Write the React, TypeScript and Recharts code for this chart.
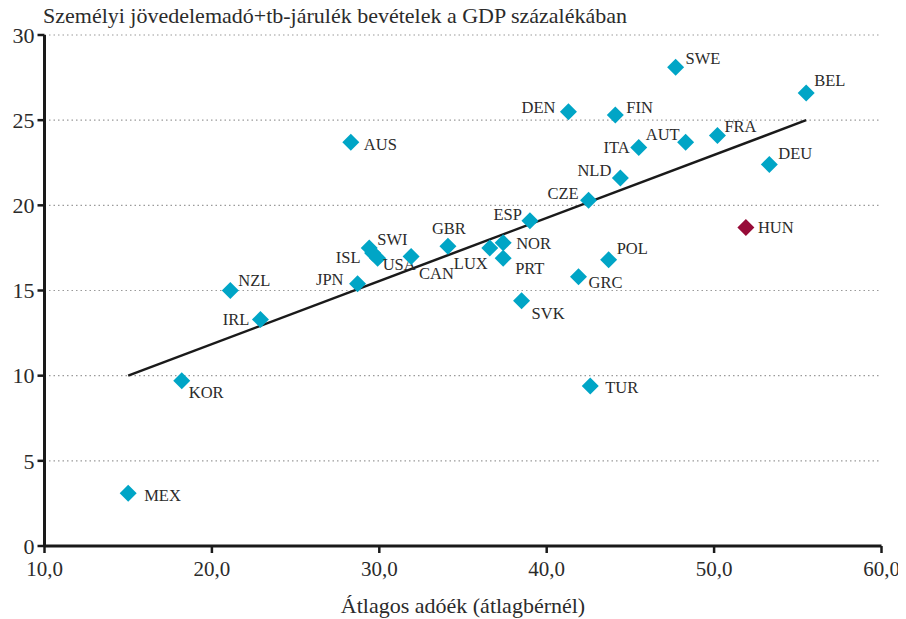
import React from "react"
import { ScatterChart, Scatter, XAxis, YAxis, CartesianGrid, ReferenceLine, Label } from "recharts"

// Átlagos adóék (x) és SZJA+tb bevétel a GDP %-ában (y), OECD országok
const countries = [
  "MEX", "KOR", "IRL", "NZL", "JPN", "AUS", "SWI", "ISL", "USA", "CAN",
  "GBR", "LUX", "NOR", "PRT", "ESP", "SVK", "CZE", "GRC", "POL", "TUR",
  "NLD", "DEN", "FIN", "ITA", "AUT", "FRA", "SWE", "BEL", "DEU",
]
const taxWedge = [
  15.0, 18.2, 22.9, 21.1, 28.7, 28.3, 29.4, 29.6, 29.9, 31.9,
  34.1, 36.6, 37.4, 37.4, 39.0, 38.5, 42.5, 41.9, 43.7, 42.6,
  44.4, 41.3, 44.1, 45.5, 48.3, 50.2, 47.7, 55.5, 53.3,
]
const revenue = [
  3.1, 9.7, 13.3, 15.0, 15.4, 23.7, 17.5, 17.2, 16.9, 17.0,
  17.6, 17.5, 17.8, 16.9, 19.1, 14.4, 20.3, 15.8, 16.8, 9.4,
  21.6, 25.5, 25.3, 23.4, 23.7, 24.1, 28.1, 26.6, 22.4,
]

const hunName = ["HUN"]
const hunX = [51.9]
const hunY = [18.7]

// trendvonal végpontjai
const trendX = [15.0, 55.5]
const trendY = [10.0, 25.0]

const xTicks = [10, 20, 30, 40, 50, 60]
const yTicks = [0, 5, 10, 15, 20, 25, 30]

const oecdData = countries.map((name, i) => ({ name, x: taxWedge[i], y: revenue[i] }))
const hunData = hunName.map((name, i) => ({ name, x: hunX[i], y: hunY[i] }))

// label offsets relative to the marker (dx, dy, anchor)
const labelPos: Record<string, [number, number, "start" | "end" | "middle"]> = {
  MEX: [16, 2, "start"],
  KOR: [7, 11, "start"],
  IRL: [-11, 0, "end"],
  NZL: [8, -10, "start"],
  JPN: [-14, -4, "end"],
  AUS: [13, 2, "start"],
  SWI: [8, -9, "start"],
  ISL: [-12, 4, "end"],
  USA: [5, 6, "start"],
  CAN: [8, 17, "start"],
  GBR: [1, -18, "middle"],
  LUX: [-2, 15, "end"],
  NOR: [13, 0, "start"],
  PRT: [12, 10, "start"],
  ESP: [-8, -6, "end"],
  SVK: [10, 13, "start"],
  CZE: [-10, -7, "end"],
  GRC: [10, 5, "start"],
  POL: [8, -12, "start"],
  TUR: [15, 1, "start"],
  NLD: [-9, -8, "end"],
  DEN: [-13, -4, "end"],
  FIN: [11, -8, "start"],
  ITA: [-9, 0, "end"],
  AUT: [-6, -8, "end"],
  FRA: [7, -9, "start"],
  SWE: [10, -9, "start"],
  BEL: [8, -13, "start"],
  DEU: [9, -11, "start"],
  HUN: [12, 0, "start"],
}

const FONT = "'Liberation Serif', 'DejaVu Serif', serif"

const makeDiamond = (color: string) => (props: any) => {
  const { cx, cy, payload } = props
  const s = 8.5
  const pos = labelPos[payload.name] || [10, 0, "start"]
  return (
    <g>
      <path d={`M${cx},${cy - s}L${cx + s},${cy}L${cx},${cy + s}L${cx - s},${cy}Z`} fill={color} />
      <text
        x={cx + pos[0]}
        y={cy + pos[1]}
        dy="0.35em"
        textAnchor={pos[2]}
        fontFamily={FONT}
        fontSize={16.5}
        fill="#2b2b2b"
      >
        {payload.name}
      </text>
    </g>
  )
}

export default function App() {
  return (
    <div style={{ position: "relative", width: 898, height: 611, fontFamily: FONT }}>
      <div
        style={{
          position: "absolute",
          left: 35,
          top: -5,
          fontSize: 22,
          color: "#2b2b2b",
          whiteSpace: "nowrap",
        }}
      >
        Személyi jövedelemadó+tb-járulék bevételek a GDP százalékában
      </div>
      <ScatterChart width={898} height={611} margin={{ top: 27, right: 24.5, bottom: 13, left: 0 }}>
        <CartesianGrid vertical={false} stroke="#9a9a9a" strokeDasharray="1.5 3" strokeWidth={1.2} />
        <XAxis
          type="number"
          dataKey="x"
          domain={[10, 60]}
          ticks={xTicks}
          tickFormatter={(v: number) => v.toFixed(1).replace(".", ",")}
          axisLine={{ stroke: "#1a1a1a", strokeWidth: 3 }}
          tickLine={{ stroke: "#1a1a1a", strokeWidth: 2.5 }}
          tickSize={7}
          tickMargin={8}
          tick={{ fill: "#2b2b2b", fontSize: 21, fontFamily: FONT }}
          height={60}
          interval={0}
        >
          <Label
            value="Átlagos adóék (átlagbérnél)"
            position="insideBottom"
            offset={-7}
            fill="#2b2b2b"
            fontSize={22}
            fontFamily={FONT}
          />
        </XAxis>
        <YAxis
          type="number"
          dataKey="y"
          domain={[0, 30]}
          ticks={yTicks}
          axisLine={{ stroke: "#1a1a1a", strokeWidth: 3 }}
          tickLine={{ stroke: "#1a1a1a", strokeWidth: 2.5 }}
          tickSize={7}
          tickMargin={3}
          tick={{ fill: "#2b2b2b", fontSize: 22, fontFamily: FONT }}
          width={36.5}
          interval={0}
        />
        <ReferenceLine
          segment={[
            { x: trendX[0], y: trendY[0] },
            { x: trendX[1], y: trendY[1] },
          ]}
          stroke="#1a1a1a"
          strokeWidth={2.5}
          ifOverflow="visible"
        />
        <Scatter data={oecdData} shape={makeDiamond("#00a5c6")} isAnimationActive={false} />
        <Scatter data={hunData} shape={makeDiamond("#970b38")} isAnimationActive={false} />
      </ScatterChart>
    </div>
  )
}
